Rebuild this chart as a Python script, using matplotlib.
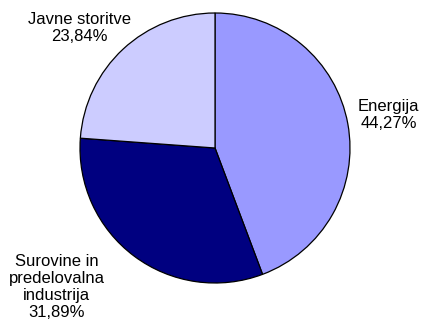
import matplotlib
matplotlib.use('Agg')
from matplotlib import pyplot as plt
import numpy as np

labels = ['Energija', 'Surovine in\npredelovalna\nindustrija', 'Javne storitve']
shares = [44.27, 31.89, 23.84]
colors = ['#9999FF', '#000080', '#CCCCFF']
# label positions relative to pie radius (angle in deg, distance)
label_pos = [(10.7, 1.31), (221.3, 1.56), (138.5, 1.34)]

plt.rcParams['font.family'] = ['Liberation Sans', 'DejaVu Sans']

fig = plt.figure(figsize=(4.24, 3.26), dpi=100)
ax = fig.add_axes([0, 0, 1, 1])

cx, cy, r = 215, 178, 135
ax.pie(shares, colors=colors, startangle=90, counterclock=False,
       center=(cx, cy), radius=r, frame=True,
       wedgeprops=dict(edgecolor='black', linewidth=0.9))
ax.set_xlim(0, 424)
ax.set_ylim(0, 326)
ax.set_aspect('equal')
ax.axis('off')

for lab, val, (ang, d) in zip(labels, shares, label_pos):
    a = np.deg2rad(ang)
    txt = f'{lab}\n{val:.2f}%'.replace('.', ',')
    ax.text(cx + d * r * np.cos(a), cy + d * r * np.sin(a), txt,
            ha='center', va='center', fontsize=12, linespacing=1.15)

fig.savefig('out.png', dpi=100)
